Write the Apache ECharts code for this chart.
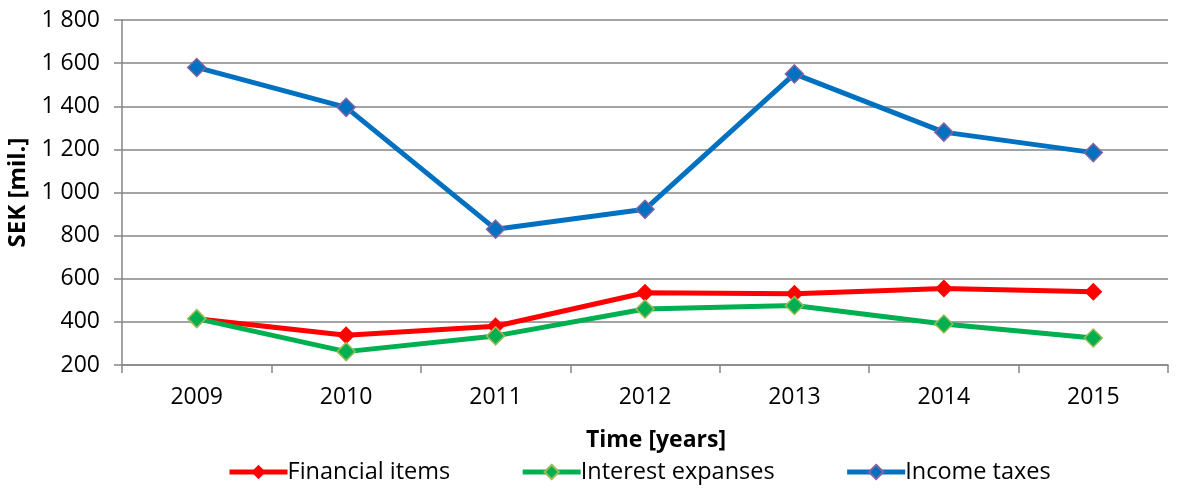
<!DOCTYPE html>
<html>
<head>
<meta charset="utf-8">
<script src="https://cdn.jsdelivr.net/npm/echarts@6/dist/echarts.min.js"></script>
<style>
  html, body { margin: 0; padding: 0; background: #fff; }
  #chart { width: 1186px; height: 488px; }
</style>
</head>
<body>
<div id="chart"></div>
<script>
// Yearly figures, SEK millions
const years = ['2009', '2010', '2011', '2012', '2013', '2014', '2015'];
const financialItems = [415, 338, 380, 535, 530, 555, 540];
const interestExpanses = [415, 262, 335, 460, 476, 390, 325];
const incomeTaxes = [1580, 1395, 830, 922, 1550, 1280, 1185];

const FONT = '"Open Sans"';

function fmt(v) {
  return String(v).replace(/\B(?=(\d{3})+(?!\d))/g, ' ');
}

function lineSeries(name, data, color, border) {
  return {
    name: name,
    type: 'line',
    data: data,
    symbol: 'diamond',
    symbolSize: 18,
    lineStyle: { color: color, width: 5 },
    itemStyle: { color: color, borderColor: border, borderWidth: border ? 1.5 : 0 },
    emphasis: { disabled: true }
  };
}

const chart = echarts.init(document.getElementById('chart'), null, { renderer: 'canvas' });
chart.setOption({
  animation: false,
  grid: { left: 122, right: 18, top: 20, bottom: 123, outerBoundsMode: 'none', containLabel: false },
  legend: {
    bottom: -1,
    left: 222,
    itemWidth: 58,
    itemHeight: 18,
    itemGap: 70,
    lineStyle: { width: 5 },
    textStyle: { fontFamily: FONT, fontSize: 23.5, color: '#000', padding: [0, 0, 0, -5] },
    data: ['Financial items', 'Interest expanses', 'Income taxes']
  },
  xAxis: {
    type: 'category',
    data: years,
    boundaryGap: true,
    name: 'Time [years]',
    nameLocation: 'middle',
    nameGap: 64,
    nameTextStyle: { fontFamily: FONT, fontSize: 23, fontWeight: 'bold', color: '#000', padding: [0, 0, 0, 22] },
    axisLine: { lineStyle: { color: '#868686', width: 1.5 } },
    axisTick: { show: true, length: 8, lineStyle: { color: '#868686', width: 1.5 } },
    axisLabel: { fontFamily: FONT, fontSize: 23, color: '#000', margin: 21 }
  },
  yAxis: {
    type: 'value',
    min: 200,
    max: 1800,
    interval: 200,
    name: 'SEK [mil.]',
    nameLocation: 'middle',
    nameGap: 84,
    nameTextStyle: { fontFamily: FONT, fontSize: 24, fontWeight: 'bold', color: '#000' },
    axisLine: { show: true, lineStyle: { color: '#868686', width: 1.5 } },
    axisTick: { show: true, length: 8, lineStyle: { color: '#868686', width: 1.5 } },
    splitLine: { lineStyle: { color: '#868686', width: 1.5 } },
    axisLabel: { fontFamily: FONT, fontSize: 23, color: '#000', margin: 22, formatter: fmt }
  },
  series: [
    lineSeries('Financial items', financialItems, '#FF0000', null),
    lineSeries('Interest expanses', interestExpanses, '#00B050', '#9BBB59'),
    lineSeries('Income taxes', incomeTaxes, '#0070C0', '#8064A2')
  ]
});
</script>
</body>
</html>
